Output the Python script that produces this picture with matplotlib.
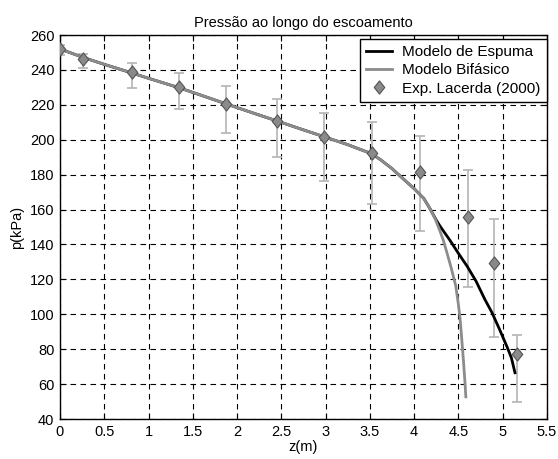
import numpy as np
import matplotlib
matplotlib.use('Agg')
import matplotlib.pyplot as plt
from matplotlib.path import Path

plt.rcParams['font.family'] = ['Liberation Sans', 'DejaVu Sans']
plt.rcParams['font.size'] = 10.5

# Experimental data (Lacerda, 2000)
z_exp = [0.0, 0.26, 0.81, 1.345, 1.88, 2.45, 2.98, 3.52, 4.07, 4.61, 4.90, 5.16]
p_exp = [251.8, 246.2, 238.6, 230.4, 220.7, 210.9, 201.7, 192.2, 181.7, 155.9, 129.5, 77.2]
p_top = [254.5, 249.1, 243.8, 238.0, 230.8, 223.2, 215.1, 210.3, 202.3, 182.6, 154.4, 88.1]
p_bot = [248.5, 241.3, 229.5, 217.4, 203.7, 190.3, 176.5, 163.2, 148.0, 115.8, 87.1, 49.9]

# Common part of both models
z_common = [0.0, 0.26, 0.5, 0.81, 1.0, 1.345, 1.6, 1.88, 2.2, 2.45, 2.7, 2.98,
            3.25, 3.52, 3.62, 3.75, 3.88, 4.0, 4.11, 4.18]
p_common = [252.0, 247.2, 243.2, 238.3, 235.2, 229.8, 225.4, 220.5, 215.0, 210.8,
            206.5, 201.8, 197.2, 192.0, 188.6, 183.5, 177.5, 172.0, 166.4, 160.5]

# Foam model after divergence
z_foam = [4.25, 4.3, 4.4, 4.5, 4.6, 4.7, 4.8, 4.88, 4.96, 5.05, 5.10, 5.14]
p_foam = [154.0, 150.0, 142.8, 135.0, 127.5, 119.0, 108.5, 101.0, 92.0, 81.4, 75.0, 66.5]

# Two-phase model after divergence
z_bif = [4.24, 4.29, 4.33, 4.37, 4.42, 4.47, 4.50, 4.52, 4.54, 4.56, 4.575, 4.585]
p_bif = [154.5, 148.0, 142.5, 135.5, 126.5, 116.5, 106.0, 97.5, 85.0, 72.0, 61.0, 52.7]

fig = plt.figure(figsize=(5.58, 4.59), dpi=100)
ax = fig.add_axes([0.1075, 0.0871, 0.8725, 0.8366])

z_esp = z_common + z_foam
p_esp = p_common + p_foam
z_b = z_common + z_bif
p_b = p_common + p_bif

ax.plot(z_esp, p_esp, color='black', lw=2.0, label='Modelo de Espuma', zorder=3,
        solid_joinstyle='round')
ax.plot(z_b, p_b, color='#8c8c8c', lw=2.0, label='Modelo Bifásico', zorder=4,
        solid_joinstyle='round')

p_exp_a = np.array(p_exp)
yerr = [p_exp_a - np.array(p_bot), np.array(p_top) - p_exp_a]
ax.errorbar(z_exp, p_exp, yerr=yerr, fmt='none', ecolor='#b4b4b4', elinewidth=1.2,
            capsize=3.3, capthick=1.2, zorder=2)

# slightly taller than wide, like a MATLAB diamond
diamond = Path([(0, 1), (0.8, 0), (0, -1), (-0.8, 0), (0, 1)],
               [Path.MOVETO, Path.LINETO, Path.LINETO, Path.LINETO, Path.CLOSEPOLY])
ax.plot(z_exp, p_exp, linestyle='none', marker=diamond, markersize=9.5,
        markerfacecolor='#8a8a8a', markeredgecolor='#555555', markeredgewidth=0.8,
        label='Exp. Lacerda (2000)', zorder=5)

ax.set_xlim(0, 5.5)
ax.set_ylim(40, 260)
ax.set_xticks(np.arange(0, 5.51, 0.5))
ax.set_xticklabels(['0', '0.5', '1', '1.5', '2', '2.5', '3', '3.5', '4', '4.5', '5', '5.5'])
ax.set_yticks(np.arange(40, 261, 20))
ax.tick_params(direction='in', length=4, top=True, right=True, pad=4)
ax.grid(True, color='black', linestyle=(0, (5, 4)), linewidth=0.8)
ax.set_axisbelow(True)
for s in ax.spines.values():
    s.set_linewidth(1.0)

ax.set_title('Pressão ao longo do escoamento', pad=6, fontsize=10.5)
ax.set_xlabel('z(m)', labelpad=1, fontsize=10.5)
ax.set_ylabel('p(kPa)', labelpad=4, fontsize=10.5)

leg = ax.legend(loc='upper right', bbox_to_anchor=(1.0, 0.99), frameon=True,
                fancybox=False, edgecolor='black', framealpha=1, borderpad=0.4,
                labelspacing=0.28, handlelength=1.75, handletextpad=0.65,
                borderaxespad=0.0, fontsize=11)
leg.get_frame().set_linewidth(1.0)

fig.savefig('out.png', dpi=100)
